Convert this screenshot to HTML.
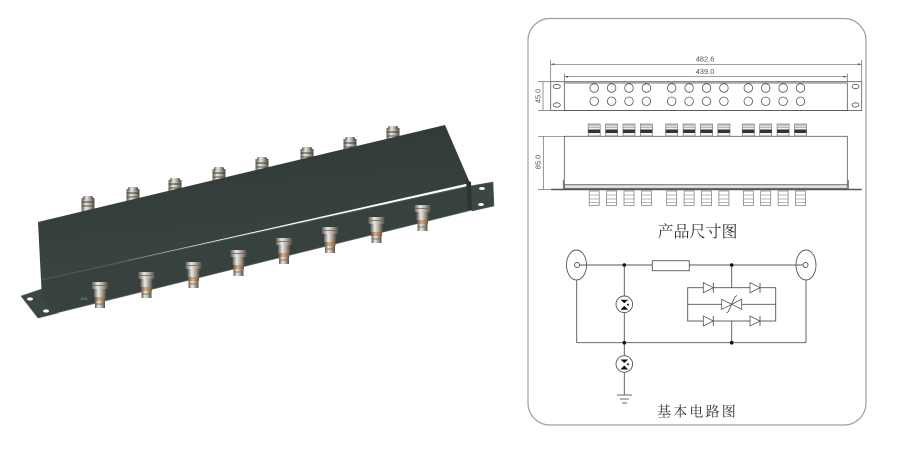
<!DOCTYPE html>
<html><head><meta charset="utf-8"><style>
html,body{margin:0;padding:0;background:#fff;}
svg{display:block;}
</style></head><body>
<svg width="900" height="450" viewBox="0 0 900 450" xmlns="http://www.w3.org/2000/svg">
<defs>
<linearGradient id="sv" x1="0" x2="1" y1="0" y2="0">
<stop offset="0" stop-color="#5e5b53"/><stop offset="0.35" stop-color="#ebe9e2"/><stop offset="0.62" stop-color="#b7b2a6"/><stop offset="1" stop-color="#4f4c45"/>
</linearGradient>
<linearGradient id="cu" x1="0" x2="1" y1="0" y2="0">
<stop offset="0" stop-color="#6b4a30"/><stop offset="0.4" stop-color="#d9b08a"/><stop offset="1" stop-color="#7a5234"/>
</linearGradient>
<linearGradient id="tf" x1="0" y1="0" x2="0.25" y2="1">
<stop offset="0" stop-color="#2e3836"/><stop offset="1" stop-color="#3a4542"/>
</linearGradient>
<g id="tc">
<rect x="-6.5" y="2" width="13" height="18" fill="url(#sv)"/>
<rect x="-5" y="0" width="10" height="4" rx="1.5" fill="url(#sv)"/>
<line x1="-6.5" y1="6" x2="6.5" y2="6" stroke="#3a3833" stroke-width="1"/>
<line x1="-6.5" y1="10" x2="6.5" y2="10" stroke="#55524b" stroke-width="1"/>
</g>
<g id="bc">
<rect x="-8" y="0" width="16" height="7" fill="url(#sv)"/>
<line x1="-8" y1="3.5" x2="8" y2="3.5" stroke="#6b675e" stroke-width="0.8"/>
<rect x="-6" y="7" width="12" height="8" fill="url(#sv)"/>
<rect x="-5.5" y="15" width="11" height="4" fill="url(#cu)"/>
<rect x="-5" y="19" width="10" height="7" fill="url(#sv)"/>
<line x1="-5" y1="22" x2="5" y2="22" stroke="#6b675e" stroke-width="0.8"/>
</g>
<g id="fc"><rect x="-6" y="0" width="12" height="12" fill="#f2f2f2" stroke="#777" stroke-width="0.7"/><rect x="-6" y="1" width="12" height="2.5" fill="#ddd" stroke="#888" stroke-width="0.5"/><rect x="-6" y="5.5" width="12" height="3.5" fill="#333"/></g>
<g id="bk"><rect x="-5" y="0" width="10" height="14.5" fill="#fff" stroke="#777" stroke-width="0.7"/><line x1="-5" y1="4" x2="5" y2="4" stroke="#888" stroke-width="0.6"/><line x1="-5" y1="8" x2="5" y2="8" stroke="#888" stroke-width="0.6"/><line x1="-5" y1="11.5" x2="5" y2="11.5" stroke="#888" stroke-width="0.6"/></g>
<g id="di"><polygon points="-5,-5 -5,5 5,0" fill="#fff" stroke="#555" stroke-width="0.8"/><line x1="5" y1="-5" x2="5" y2="5" stroke="#555" stroke-width="0.9"/></g>
<g id="gdt"><circle r="8.3" fill="#fff" stroke="#555" stroke-width="0.9"/><polygon points="-3.8,-4.5 3.8,-4.5 0,-1" fill="#111"/><polygon points="-3.8,5.5 3.8,5.5 0,1.5" fill="#111"/><circle cx="3.6" cy="0.3" r="1" fill="#111"/></g>
</defs>

<!-- ===== Product photo ===== -->
<g>
<use href="#tc" x="88" y="196"/>
<use href="#tc" x="133" y="187"/>
<use href="#tc" x="175" y="178"/>
<use href="#tc" x="219" y="167"/>
<use href="#tc" x="262" y="157"/>
<use href="#tc" x="307" y="147"/>
<use href="#tc" x="350" y="137"/>
<use href="#tc" x="393" y="126"/>
<polygon points="21,296 42,289 58,313 38,318" fill="#3c4744" stroke="#59635f" stroke-width="0.6"/>
<ellipse cx="30" cy="299" rx="3" ry="1.6" fill="#fff"/>
<ellipse cx="46" cy="311" rx="3" ry="1.6" fill="#fff"/>
<polygon points="470,186 493,182 494,206 472,211" fill="#3c4744" stroke="#59635f" stroke-width="0.6"/>
<ellipse cx="482" cy="188.5" rx="3" ry="1.5" fill="#fff"/>
<ellipse cx="481" cy="204.5" rx="3" ry="1.5" fill="#fff"/>
<polygon points="38,222 445,125 470,183 41,280" fill="url(#tf)"/>
<polygon points="41,280 470,186 472,210 56,313 42,300" fill="#37423f"/>
<line x1="41" y1="280" x2="470" y2="186" stroke="#4f5a57" stroke-width="1"/>
<line x1="56" y1="313" x2="472" y2="210" stroke="#59635f" stroke-width="0.8"/>
<polygon points="466,180 471,182 472,210 468,210" fill="#2c3533"/>
<use href="#bc" x="100" y="282"/>
<use href="#bc" x="146.5" y="272"/>
<use href="#bc" x="193.5" y="262"/>
<use href="#bc" x="238.5" y="250"/>
<use href="#bc" x="284" y="238"/>
<use href="#bc" x="330" y="227"/>
<use href="#bc" x="376.5" y="217"/>
<use href="#bc" x="422.5" y="205"/>
<text x="80" y="300" font-family="Liberation Sans, sans-serif" font-size="4" fill="#9aa">12A</text>
</g>

<!-- ===== Right drawing panel ===== -->
<rect x="528" y="18.5" width="338" height="406.5" rx="22" ry="22" fill="none" stroke="#a0a0a0" stroke-width="1.2"/>

<g stroke="#666" stroke-width="0.7" fill="none">
<line x1="550.7" y1="60" x2="550.7" y2="81.7"/>
<line x1="861.7" y1="60" x2="861.7" y2="81.7"/>
<line x1="550.7" y1="64.3" x2="861.7" y2="64.3"/>
<line x1="564.3" y1="73.5" x2="564.3" y2="83"/>
<line x1="847.3" y1="73.5" x2="847.3" y2="83"/>
<line x1="564.3" y1="76.7" x2="847.3" y2="76.7"/>
<line x1="538" y1="81.7" x2="550" y2="81.7"/>
<line x1="538" y1="110.5" x2="550" y2="110.5"/>
<line x1="543" y1="81.7" x2="543" y2="110.5"/>
<line x1="538" y1="136.3" x2="564" y2="136.3"/>
<line x1="538" y1="189.5" x2="550" y2="189.5"/>
<line x1="543.3" y1="136.3" x2="543.3" y2="189.5"/>
</g>
<g fill="#555">
<polygon points="550.7,64.3 554.5,63.3 554.5,65.3"/><polygon points="861.7,64.3 857.9,63.3 857.9,65.3"/>
<polygon points="564.3,76.7 568.1,75.7 568.1,77.7"/><polygon points="847.3,76.7 843.5,75.7 843.5,77.7"/>
</g>
<g font-family="Liberation Sans, sans-serif" font-size="7.5" fill="#555" text-anchor="middle">
<text x="705" y="61.5">482.6</text>
<text x="705" y="74">439.0</text>
<text transform="translate(540.5,96) rotate(-90)">45.0</text>
<text transform="translate(540.5,162) rotate(-90)">85.0</text>
</g>

<g stroke="#555" stroke-width="0.8" fill="none">
<rect x="550.7" y="81.7" width="311" height="28.8" fill="#fff"/>
<rect x="564.3" y="83" width="283" height="27.5"/>
<ellipse cx="556.8" cy="86.5" rx="3.5" ry="2.2"/>
<ellipse cx="556.8" cy="105" rx="3.5" ry="2.2"/>
<ellipse cx="855.5" cy="86.5" rx="3.5" ry="2.2"/>
<ellipse cx="855.5" cy="105" rx="3.5" ry="2.2"/>
</g>
<g stroke="#555" stroke-width="0.8" fill="#fff">
<circle cx="594.2" cy="88" r="4.3"/><circle cx="611.6" cy="88" r="4.3"/><circle cx="629" cy="88" r="4.3"/><circle cx="646.4" cy="88" r="4.3"/>
<circle cx="671.7" cy="88" r="4.3"/><circle cx="689.1" cy="88" r="4.3"/><circle cx="706.5" cy="88" r="4.3"/><circle cx="723.9" cy="88" r="4.3"/>
<circle cx="748.3" cy="88" r="4.3"/><circle cx="765.7" cy="88" r="4.3"/><circle cx="783.1" cy="88" r="4.3"/><circle cx="800.5" cy="88" r="4.3"/>
<circle cx="594.2" cy="101.3" r="4.3"/><circle cx="611.6" cy="101.3" r="4.3"/><circle cx="629" cy="101.3" r="4.3"/><circle cx="646.4" cy="101.3" r="4.3"/>
<circle cx="671.7" cy="101.3" r="4.3"/><circle cx="689.1" cy="101.3" r="4.3"/><circle cx="706.5" cy="101.3" r="4.3"/><circle cx="723.9" cy="101.3" r="4.3"/>
<circle cx="748.3" cy="101.3" r="4.3"/><circle cx="765.7" cy="101.3" r="4.3"/><circle cx="783.1" cy="101.3" r="4.3"/><circle cx="800.5" cy="101.3" r="4.3"/>
</g>

<g>
<use href="#fc" x="594.2" y="124"/><use href="#fc" x="611.6" y="124"/><use href="#fc" x="629" y="124"/><use href="#fc" x="646.4" y="124"/>
<use href="#fc" x="671.7" y="124"/><use href="#fc" x="689.1" y="124"/><use href="#fc" x="706.5" y="124"/><use href="#fc" x="723.9" y="124"/>
<use href="#fc" x="748.3" y="124"/><use href="#fc" x="765.7" y="124"/><use href="#fc" x="783.1" y="124"/><use href="#fc" x="800.5" y="124"/>
</g>
<g stroke="#555" stroke-width="0.8" fill="none">
<rect x="564.3" y="136.3" width="283" height="48.5" fill="#fff"/>
<rect x="564.3" y="184.8" width="283" height="3.5" fill="#e6e6e6"/>
<line x1="550.7" y1="189.5" x2="861.7" y2="189.5" stroke-width="1.4"/>
<line x1="563.3" y1="180" x2="563.3" y2="189.5"/>
<line x1="848.3" y1="180" x2="848.3" y2="189.5"/>
</g>
<g>
<use href="#bk" x="594.2" y="191"/><use href="#bk" x="611.6" y="191"/><use href="#bk" x="629" y="191"/><use href="#bk" x="646.4" y="191"/>
<use href="#bk" x="671.7" y="191"/><use href="#bk" x="689.1" y="191"/><use href="#bk" x="706.5" y="191"/><use href="#bk" x="723.9" y="191"/>
<use href="#bk" x="748.3" y="191"/><use href="#bk" x="765.7" y="191"/><use href="#bk" x="783.1" y="191"/><use href="#bk" x="800.5" y="191"/>
</g>

<text x="697.5" y="237" text-anchor="middle" font-family="'Noto Serif CJK SC', serif" font-size="16" fill="#333">产品尺寸图</text>

<g stroke="#555" stroke-width="0.9" fill="none">
<ellipse cx="576.5" cy="265" rx="10" ry="15"/>
<circle cx="577" cy="265" r="2.5"/>
<ellipse cx="806" cy="265" rx="10" ry="15"/>
<circle cx="805.5" cy="265" r="2.5"/>
<line x1="579.5" y1="265" x2="803" y2="265"/>
<line x1="576.7" y1="280" x2="576.7" y2="342.7"/>
<line x1="806" y1="280" x2="806" y2="342.7"/>
<line x1="576.7" y1="342.7" x2="806" y2="342.7"/>
<line x1="624.3" y1="265" x2="624.3" y2="395"/>
<line x1="731.7" y1="265" x2="731.7" y2="287.7"/>
<line x1="731.7" y1="321" x2="731.7" y2="342.7"/>
<rect x="687.7" y="287.7" width="88" height="33.3"/>
<line x1="687.7" y1="304.3" x2="775.7" y2="304.3"/>
<line x1="617" y1="395" x2="632" y2="395"/>
<line x1="620" y1="399" x2="629" y2="399"/>
<line x1="622" y1="403" x2="627" y2="403"/>
</g>
<rect x="652.3" y="260.7" width="37" height="10" fill="#fff" stroke="#555" stroke-width="0.9"/>
<use href="#gdt" x="624.3" y="304.3"/>
<use href="#gdt" x="624.3" y="364"/>
<use href="#di" x="708.3" y="287.7"/>
<use href="#di" x="755" y="287.7"/>
<use href="#di" x="708.3" y="321"/>
<use href="#di" x="755" y="321"/>
<g stroke="#555" stroke-width="0.8" fill="#fff">
<polygon points="721.7,299.3 721.7,309.3 731.7,304.3"/>
<polygon points="741.7,299.3 741.7,309.3 731.7,304.3"/>
<polyline points="726.5,313 728.3,311.7 735,296.7 737,295.5" fill="none"/>
</g>
<g fill="#111">
<circle cx="624.3" cy="265" r="1.8"/><circle cx="731.7" cy="265" r="1.8"/>
<circle cx="624.3" cy="342.7" r="1.8"/><circle cx="731.7" cy="342.7" r="1.8"/>
</g>

<text x="697.5" y="416.5" text-anchor="middle" font-family="'Noto Serif CJK SC', serif" font-size="14" letter-spacing="2.2" fill="#333">基本电路图</text>
</svg>
</body></html>
